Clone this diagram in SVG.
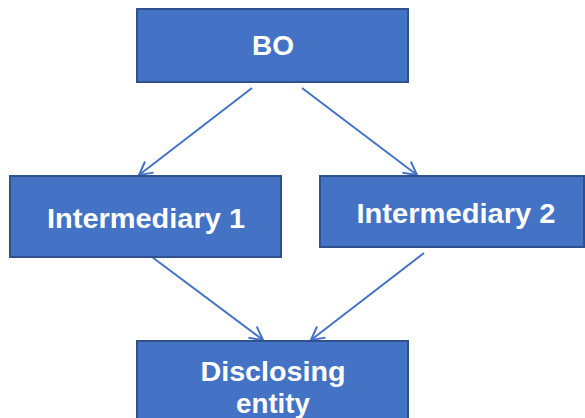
<svg xmlns="http://www.w3.org/2000/svg" width="585" height="418" viewBox="0 0 585 418">
<style>
.box{fill:#4472C4;stroke:#2F528F;stroke-width:2}
.lbl{font-family:"Liberation Sans",Arial,sans-serif;font-weight:bold;font-size:27px;fill:#FFFFFF;text-anchor:middle}
.edge{stroke:#4472C4;stroke-width:2;fill:none;marker-end:url(#arr)}
</style>
<defs>
<marker id="arr" viewBox="0 0 16 16" refX="14" refY="8" markerWidth="16" markerHeight="16" markerUnits="userSpaceOnUse" orient="auto">
<path d="M1,1 L14,8 L1,15" fill="none" stroke="#4472C4" stroke-width="2"/>
</marker>
</defs>
<rect width="585" height="418" fill="#FFFFFF"/>
<g id="connectors">
<line class="edge" x1="252" y1="88" x2="139" y2="175"/>
<line class="edge" x1="302" y1="88" x2="417" y2="175"/>
<line class="edge" x1="152" y1="257" x2="263" y2="340"/>
<line class="edge" x1="424" y1="253" x2="311" y2="340"/>
</g>
<g id="node-bo">
<rect class="box" x="137" y="9" width="271" height="73"/>
<text class="lbl" x="273" y="55" textLength="42" lengthAdjust="spacingAndGlyphs">BO</text>
</g>
<g id="node-int1">
<rect class="box" x="10" y="176" width="271" height="81"/>
<text class="lbl" x="146" y="228" textLength="198" lengthAdjust="spacingAndGlyphs">Intermediary 1</text>
</g>
<g id="node-int2">
<rect class="box" x="320" y="176" width="264" height="71"/>
<text class="lbl" x="456" y="223" textLength="199" lengthAdjust="spacingAndGlyphs">Intermediary 2</text>
</g>
<g id="node-disc">
<rect class="box" x="137" y="341" width="271" height="90"/>
<text class="lbl" x="273" y="381" textLength="145" lengthAdjust="spacingAndGlyphs">Disclosing</text>
<text class="lbl" x="273" y="413" textLength="74" lengthAdjust="spacingAndGlyphs">entity</text>
</g>
</svg>
